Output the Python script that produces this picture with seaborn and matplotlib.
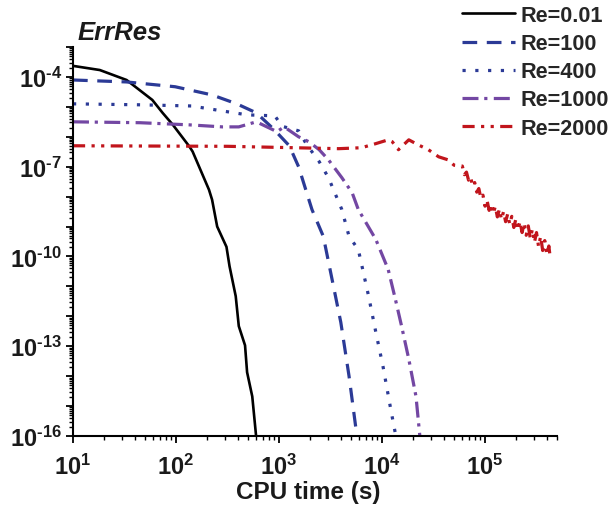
import numpy as np
import pandas as pd
import matplotlib
matplotlib.use("Agg")
import matplotlib.pyplot as plt
import seaborn as sns
from matplotlib.ticker import FixedLocator, LogLocator, NullFormatter, FuncFormatter

sns.set_style("ticks")
plt.rcParams['font.family'] = ['Liberation Sans', 'DejaVu Sans']
plt.rcParams['mathtext.fontset'] = 'custom'
plt.rcParams['mathtext.rm'] = 'Liberation Sans:bold'
plt.rcParams['mathtext.bf'] = 'Liberation Sans:bold'
plt.rcParams['mathtext.it'] = 'Liberation Sans:bold'
plt.rcParams['mathtext.default'] = 'rm'

# ---------------- data ----------------
labels = ["Re=0.01", "Re=100", "Re=400", "Re=1000", "Re=2000"]

t_re001 = [10, 18.2, 33.1, 58.9, 74.1, 93.3, 135, 145, 209, 224, 251, 309, 331,
           380, 407, 468, 490, 550, 603]
e_re001 = [2.34e-4, 1.70e-4, 7.9e-5, 1.70e-5, 6.3e-6, 2.5e-6, 4.7e-7, 3.2e-7,
           1.70e-8, 7.9e-9, 1.0e-9, 2.1e-10, 4.7e-11, 4.7e-12, 4.7e-13, 1.07e-13,
           1.35e-14, 2.1e-15, 8e-17]

t_re100 = [10, 33, 98, 224, 389, 603, 891, 1259, 1549, 2089, 2692, 3236, 3981,
           4786, 5754]
e_re100 = [7.9e-5, 6.8e-5, 4.7e-5, 2.5e-5, 1.26e-5, 6.3e-6, 1.78e-6, 5.0e-7,
           1.0e-7, 3.7e-9, 4.7e-10, 2.1e-11, 6.3e-13, 1.0e-14, 8e-17]

t_re400 = [10, 44.7, 141, 275, 490, 912, 1072, 1549, 1862, 2455, 3020, 4074,
           4786, 5888, 7413, 8710, 10230, 12300, 13800]
e_re400 = [1.26e-5, 1.17e-5, 1.07e-5, 7.4e-6, 5.4e-6, 5.0e-6, 2.24e-6, 1.58e-6,
           5.4e-7, 1.48e-7, 4.3e-8, 3.7e-9, 4.7e-10, 1.7e-10, 4.7e-12, 2.95e-13,
           2.1e-14, 6.3e-16, 8e-17]

t_re1000 = [10, 44.7, 135, 282, 407, 603, 955, 1122, 1549, 1950, 2455, 3020,
            4074, 5129, 5888, 8710, 11480, 13490, 15490, 18200, 21380, 23440]
e_re1000 = [3.16e-6, 2.95e-6, 2.5e-6, 2.14e-6, 2.14e-6, 3.16e-6, 1.48e-6,
            2.14e-6, 1.0e-6, 6.8e-7, 3.7e-7, 1.7e-7, 4.3e-8, 1.35e-8, 3.7e-9,
            3.7e-10, 3.7e-11, 3.7e-12, 4.7e-13, 3.7e-14, 2.1e-15, 8e-17]

t_re2000 = [10, 316, 3800, 6310, 8710, 11480, 12590, 14450, 18200, 22390, 28180,
            35480, 43650, 50100,
            60260, 63100, 66070, 69180, 72440, 75860, 79430, 83180, 87100, 91200,
            95500, 100000, 104700, 109600, 114800, 120200, 125900, 131800, 138000,
            144500, 151400, 158500, 166000, 173800, 182000, 190500, 199500,
            208900, 218800, 229100, 239900, 251200, 263000, 275400, 288400,
            302000, 316200, 331100, 346700, 363100, 380200, 398100, 416900, 426600]
e_re2000 = [5.0e-7, 4.8e-7, 4.0e-7, 4.3e-7, 5.9e-7, 7.9e-7, 6.8e-7, 3.7e-7,
            7.9e-7, 5.4e-7, 3.7e-7, 2.14e-7, 1.7e-7, 1.12e-7,
            1.05e-7, 5.4e-8, 6.6e-8, 3.55e-8, 4.6e-8, 2.24e-8, 2.95e-8, 1.41e-8,
            1.86e-8, 8.9e-9, 1.12e-8, 4.8e-9, 7.4e-9, 3.47e-9, 5.6e-9, 2.7e-9,
            4.7e-9, 2.1e-9, 3.8e-9, 1.74e-9, 3.16e-9, 1.45e-9, 2.63e-9, 1.2e-9,
            2.19e-9, 9.3e-10, 1.82e-9, 7.8e-10, 1.48e-9, 6.3e-10, 1.29e-9,
            5.1e-10, 1.05e-9, 4.0e-10, 8.1e-10, 2.95e-10, 6.3e-10, 2.14e-10,
            4.7e-10, 1.58e-10, 3.4e-10, 1.17e-10, 2.24e-10, 1.12e-10]

x_ticks = [1e1, 1e2, 1e3, 1e4, 1e5]
x_ticklabels = [r'$10^{1}$', r'$10^{2}$', r'$10^{3}$', r'$10^{4}$', r'$10^{5}$']
y_label_exps = [-16, -13, -10, -7, -4]

# ---------------- styles ----------------
colors = ["#000000", "#2b3a96", "#2b3a96", "#7347a3", "#c1151c"]
styles = ["-", (0, (4.6, 3.0)), (0, (1.0, 3.0)), (0, (5.0, 1.8, 1.0, 2.0)),
          (0, (3.8, 2.0, 1.0, 2.0, 1.0, 2.0))]
widths = [1.9, 2.3, 2.3, 2.3, 2.3]
series_t = [t_re001, t_re100, t_re400, t_re1000, t_re2000]
series_e = [e_re001, e_re100, e_re400, e_re1000, e_re2000]

fig = plt.figure(figsize=(6.09, 5.10), dpi=100)
ax = fig.add_axes([73 / 609, 1 - 437 / 510, (557 - 73) / 609, (437 - 48) / 510])
ax.set_xscale('log')
ax.set_yscale('log')

for lab, t, e, c, ls, lw in zip(labels, series_t, series_e, colors, styles, widths):
    df = pd.DataFrame({'t': t, 'err': e})
    sns.lineplot(data=df, x='t', y='err', ax=ax, color=c, linestyle=ls,
                 linewidth=lw, label=lab, estimator=None, sort=False)

ax.set_xlim(10, 5e5)
ax.set_ylim(1e-16, 1e-3)

for s in ['top', 'right']:
    ax.spines[s].set_visible(False)
for s in ['left', 'bottom']:
    ax.spines[s].set_linewidth(1.5)
    ax.spines[s].set_color('black')

ax.xaxis.set_major_locator(FixedLocator(x_ticks))
ax.set_xticklabels(x_ticklabels)
ax.xaxis.set_minor_locator(LogLocator(base=10, subs=range(2, 10), numticks=100))
ax.xaxis.set_minor_formatter(NullFormatter())

ax.yaxis.set_major_locator(FixedLocator([10.0 ** k for k in range(-16, -2)]))
def yfmt(v, pos):
    k = int(round(np.log10(v)))
    return (r'$10^{\text{-%d}}$' % (-k)) if k in y_label_exps else ''
ax.yaxis.set_major_formatter(FuncFormatter(yfmt))
ax.yaxis.set_minor_locator(LogLocator(base=10, subs=range(2, 10), numticks=100))
ax.yaxis.set_minor_formatter(NullFormatter())

ax.tick_params(axis='both', which='major', direction='out', length=5, width=1.3,
               labelsize=17, color='black', labelcolor='#1a1a1a')
ax.tick_params(axis='x', which='major', pad=8)
ax.tick_params(axis='y', which='major', pad=3)
ax.tick_params(axis='both', which='minor', direction='out', length=3, width=1.0,
               color='black')

ax.set_xlabel('CPU time (s)', fontsize=17.5, fontweight='bold', color='#1a1a1a')
ax.xaxis.set_label_coords((308 - 73) / 484, -56 / 389 + 0.0)
ax.xaxis.label.set_va('center')
ax.set_ylabel('')

fig.text(78 / 609, 1 - 33 / 510, 'ErrRes', fontsize=18.5, fontweight='bold',
         fontstyle='italic', va='center', ha='left', color='#1a1a1a')

ax.legend(loc='upper left', bbox_to_anchor=(462 / 609, 1 - 6 / 510),
          bbox_transform=fig.transFigure, frameon=False,
          prop={'weight': 'bold', 'size': 15.6}, handlelength=2.45,
          handletextpad=0.23, labelspacing=0.33, borderpad=0, borderaxespad=0)

fig.savefig('out.png', dpi=100)
